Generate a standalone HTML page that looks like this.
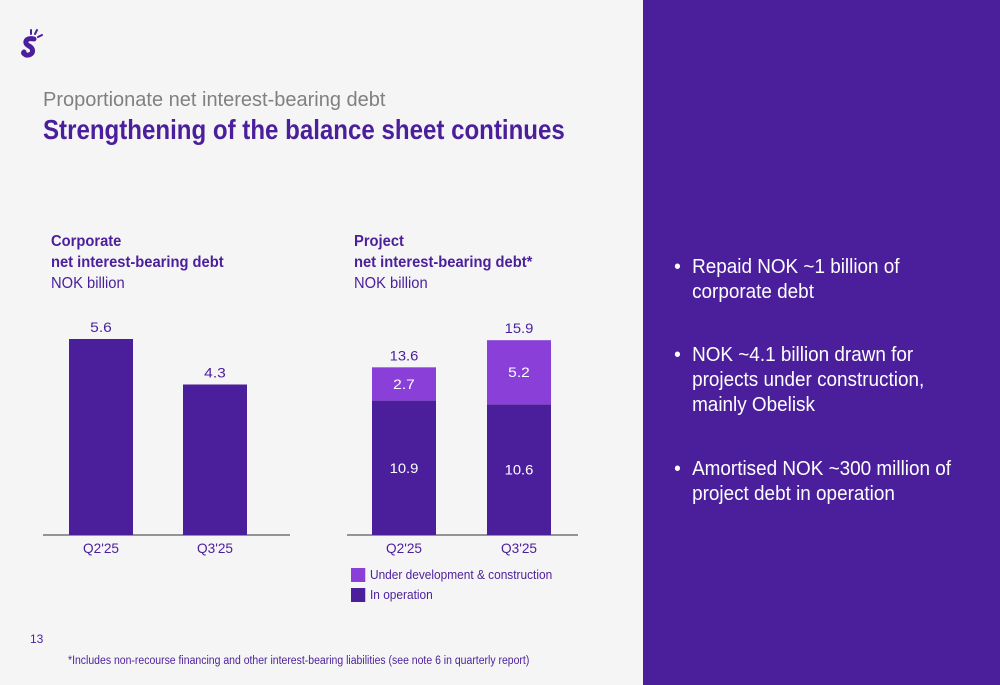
<!DOCTYPE html>
<html><head><meta charset="utf-8"><style>
body{margin:0;width:1000px;height:685px;background:#f5f5f5;font-family:"Liberation Sans",sans-serif;position:relative;overflow:hidden}
.t{position:absolute;white-space:nowrap;transform-origin:0 0}
.panel{position:absolute;left:643px;top:0;width:357px;height:685px;background:#4b1f9c}
.b{position:absolute;color:#fff;font-size:20px;line-height:25px;left:676px;transform:scaleX(0.945);transform-origin:0 0;white-space:nowrap}
.b span{position:absolute;left:-2px}
.b div{padding-left:17px}
</style></head><body>
<svg style="position:absolute;left:20px;top:28px" width="26" height="34" viewBox="0 0 26 34">
<path d="M14 11 C6 9 3 15 9 18 C15 21 13 28 6 27 C4 26 3 25 4 24" stroke="#4b1f9c" stroke-width="5" fill="none" stroke-linecap="round"/>
<path d="M11 6 L11 2 M15 6 L17 2 M18 9 L22 7" stroke="#4b1f9c" stroke-width="2" stroke-linecap="round"/>
</svg>
<div class="t" style="left:43px;top:89px;font-size:20px;color:#808080;transform:scaleX(1.0)">Proportionate net interest-bearing debt</div>
<div class="t" style="left:43px;top:114px;font-size:28px;font-weight:bold;color:#4b1f9c;transform:scaleX(0.86)">Strengthening of the balance sheet continues</div>
<div class="t" style="left:51px;top:231px;font-size:15.5px;line-height:21px;color:#4b1f9c;transform:scaleX(0.95)"><b>Corporate<br>net interest-bearing debt</b><br>NOK billion</div>
<div class="t" style="left:354px;top:231px;font-size:15.5px;line-height:21px;color:#4b1f9c;transform:scaleX(0.95)"><b>Project<br>net interest-bearing debt*</b><br>NOK billion</div>
<svg id="ch" style="position:absolute;left:0;top:0" width="643" height="685"></svg>
<div class="t" style="left:351px;top:568px;font-size:12.5px;color:#4b1f9c;line-height:15px;transform:scaleX(0.95)"><span style="display:inline-block;width:15px;height:14px;background:#8a3fd9;vertical-align:-3px;margin-right:5px"></span>Under development &amp; construction</div>
<div class="t" style="left:351px;top:588px;font-size:12.5px;color:#4b1f9c;line-height:15px;transform:scaleX(0.95)"><span style="display:inline-block;width:15px;height:14px;background:#4b1f9c;vertical-align:-3px;margin-right:5px"></span>In operation</div>
<div class="t" style="left:30px;top:632px;font-size:12px;color:#4b1f9c">13</div>
<div class="t" style="left:68px;top:655px;font-size:11.5px;color:#4b1f9c;transform:scaleX(0.91)">*Includes non-recourse financing and other interest-bearing liabilities (see note 6 in quarterly report)</div>
<div class="panel"></div>
<div class="b" style="top:255px"><span>•</span><div>Repaid NOK ~1 billion of<br>corporate debt</div></div>
<div class="b" style="top:343px"><span>•</span><div>NOK ~4.1 billion drawn for<br>projects under construction,<br>mainly Obelisk</div></div>
<div class="b" style="top:457px"><span>•</span><div>Amortised NOK ~300 million of<br>project debt in operation</div></div>
<script>
const categories=["Q2'25","Q3'25"];
const corporate=[5.6,4.3];
const projOperation=[10.9,10.6];
const projConstruction=[2.7,5.2];
const projTotal=["13.6","15.9"];
const NS="http://www.w3.org/2000/svg",svg=document.getElementById('ch');
const base=535,DARK="#4b1f9c",LIGHT="#8a3fd9";
function el(t,a,txt){const e=document.createElementNS(NS,t);for(const k in a)e.setAttribute(k,a[k]);if(txt!==undefined)e.textContent=txt;svg.appendChild(e);return e;}
const yC=v=>base-v*35, yP=v=>base-v*12.33;
const corpX=[69,183], projX=[372,487], bw=64;
el('line',{x1:43,x2:290,y1:base,y2:base,stroke:'#333','stroke-width':1});
el('line',{x1:347,x2:578,y1:base,y2:base,stroke:'#333','stroke-width':1});
const F={'font-size':14,'font-family':'Liberation Sans','text-anchor':'middle'};
function tx(x,y,fill,s){return el('text',Object.assign({x:x,y:y,fill:fill,textLength:s.length*7.2,lengthAdjust:'spacingAndGlyphs'},F),s);}
categories.forEach((c,i)=>{
 let r=el('rect',{x:corpX[i],y:yC(corporate[i]),width:bw,height:base-yC(corporate[i]),fill:DARK});
 
 
 let t=tx(corpX[i]+bw/2,yC(corporate[i])-7,DARK,corporate[i].toFixed(1));
 
 
 let l=tx(corpX[i]+bw/2,553,DARK,c);
 
 
 const yo=yP(projOperation[i]), yt=yP(projOperation[i]+projConstruction[i]);
 let r1=el('rect',{x:projX[i],y:yo,width:bw,height:base-yo,fill:DARK});
 
 
 let r2=el('rect',{x:projX[i],y:yt,width:bw,height:yo-yt,fill:LIGHT});
 
 
 let t1=tx(projX[i]+bw/2,(yo+base)/2+5,'#fff',projOperation[i].toFixed(1));
 
 
 let t2=tx(projX[i]+bw/2,(yo+yt)/2+5,'#fff',projConstruction[i].toFixed(1));
 
 
 let t3=tx(projX[i]+bw/2,yt-7,DARK,projTotal[i]);
 
 
 let l2=tx(projX[i]+bw/2,553,DARK,c);
 
 
});
</script>
</body></html>
